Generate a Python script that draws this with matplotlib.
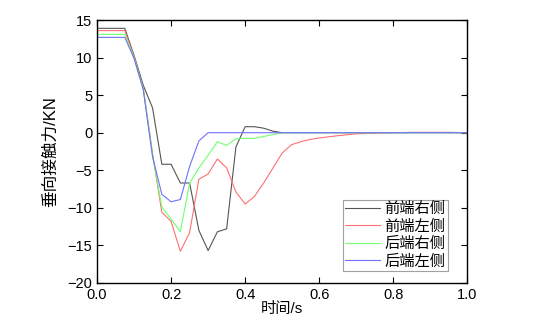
import numpy as np
import matplotlib
matplotlib.use("Agg")
from matplotlib import pyplot as plt

plt.rcParams['font.family'] = ['Liberation Sans', 'Noto Sans CJK SC', 'DejaVu Sans']

# 时间 (s), 步长 0.025
t = [0.0, 0.025, 0.05, 0.075, 0.1, 0.125, 0.15, 0.175, 0.2, 0.225, 0.25,
     0.275, 0.3, 0.325, 0.35, 0.375, 0.4, 0.425, 0.45, 0.475, 0.5,
     0.525, 0.55, 0.575, 0.6, 0.65, 0.7, 0.75, 0.8, 0.85, 0.9, 0.95, 1.0]

front_right = [13.9, 13.9, 13.9, 13.9, 10.3, 6.3, 3.3, -4.2, -4.2, -6.7, -6.7,
               -13.0, -15.7, -13.2, -12.8, -1.9, 0.8, 0.8, 0.6, 0.2, 0.0,
               0.0, 0.0, 0.0, 0.0, 0.0, 0.0, 0.0, 0.0, 0.0, 0.0, 0.0, 0.0]
front_left = [13.6, 13.6, 13.6, 13.6, 10.1, 5.9, -2.8, -10.6, -11.8, -15.8, -13.3,
              -6.2, -5.5, -3.5, -4.7, -7.9, -9.5, -8.5, -6.7, -4.7, -2.7,
              -1.6, -1.2, -0.9, -0.7, -0.4, -0.15, -0.05, 0.0, 0.05, 0.05, 0.05, 0.0]
rear_right = [13.1, 13.1, 13.1, 13.1, 10.0, 5.8, -3.0, -9.9, -11.5, -13.2, -6.7,
              -4.7, -3.0, -1.2, -1.7, -0.8, -0.75, -0.75, -0.5, -0.25, 0.0,
              0.0, 0.0, 0.0, 0.0, 0.0, 0.0, 0.0, 0.0, 0.0, 0.0, 0.0, 0.0]
rear_left = [12.7, 12.7, 12.7, 12.7, 9.9, 5.7, -3.2, -8.2, -9.2, -8.9, -4.5,
             -1.1, 0.0, 0.0, 0.0, 0.0, 0.0, 0.0, 0.0, 0.0, 0.0,
             0.0, 0.0, 0.0, 0.0, 0.0, 0.0, 0.0, 0.0, 0.0, 0.0, 0.0, 0.0]

labels = ['前端右侧', '前端左侧', '后端右侧', '后端左侧']
colors = ['#555555', '#ff7070', '#70ff70', '#7070ff']

fig = plt.figure(figsize=(5.48, 3.24), dpi=100)
ax = fig.add_axes([0.177, 0.127, 0.676, 0.811])

for y, lab, c in zip([front_right, front_left, rear_right, rear_left], labels, colors):
    ax.plot(t, y, color=c, lw=0.8, label=lab)

ax.set_xlim(0, 1)
ax.set_ylim(-20, 15)
ax.set_xticks(np.arange(0, 1.01, 0.2))
ax.set_xticklabels(['0.0', '0.2', '0.4', '0.6', '0.8', '1.0'])
ax.set_yticks(np.arange(-20, 16, 5))
ax.tick_params(direction='in', top=True, right=True, labelsize=10.5, length=4, width=0.8)
for s in ax.spines.values():
    s.set_linewidth(1.0)

ax.set_xlabel('时间/s', fontsize=11, labelpad=0)
ax.set_ylabel('垂向接触力/KN', fontsize=12, labelpad=7)

leg = ax.legend(loc='lower right', bbox_to_anchor=(0.947, 0.045), fontsize=11,
                fancybox=False, edgecolor='#888888', handlelength=2.3,
                handletextpad=0.3, borderpad=0.15, labelspacing=0.22, borderaxespad=0)
leg.get_frame().set_linewidth(0.8)

fig.savefig('out.png', dpi=100)
